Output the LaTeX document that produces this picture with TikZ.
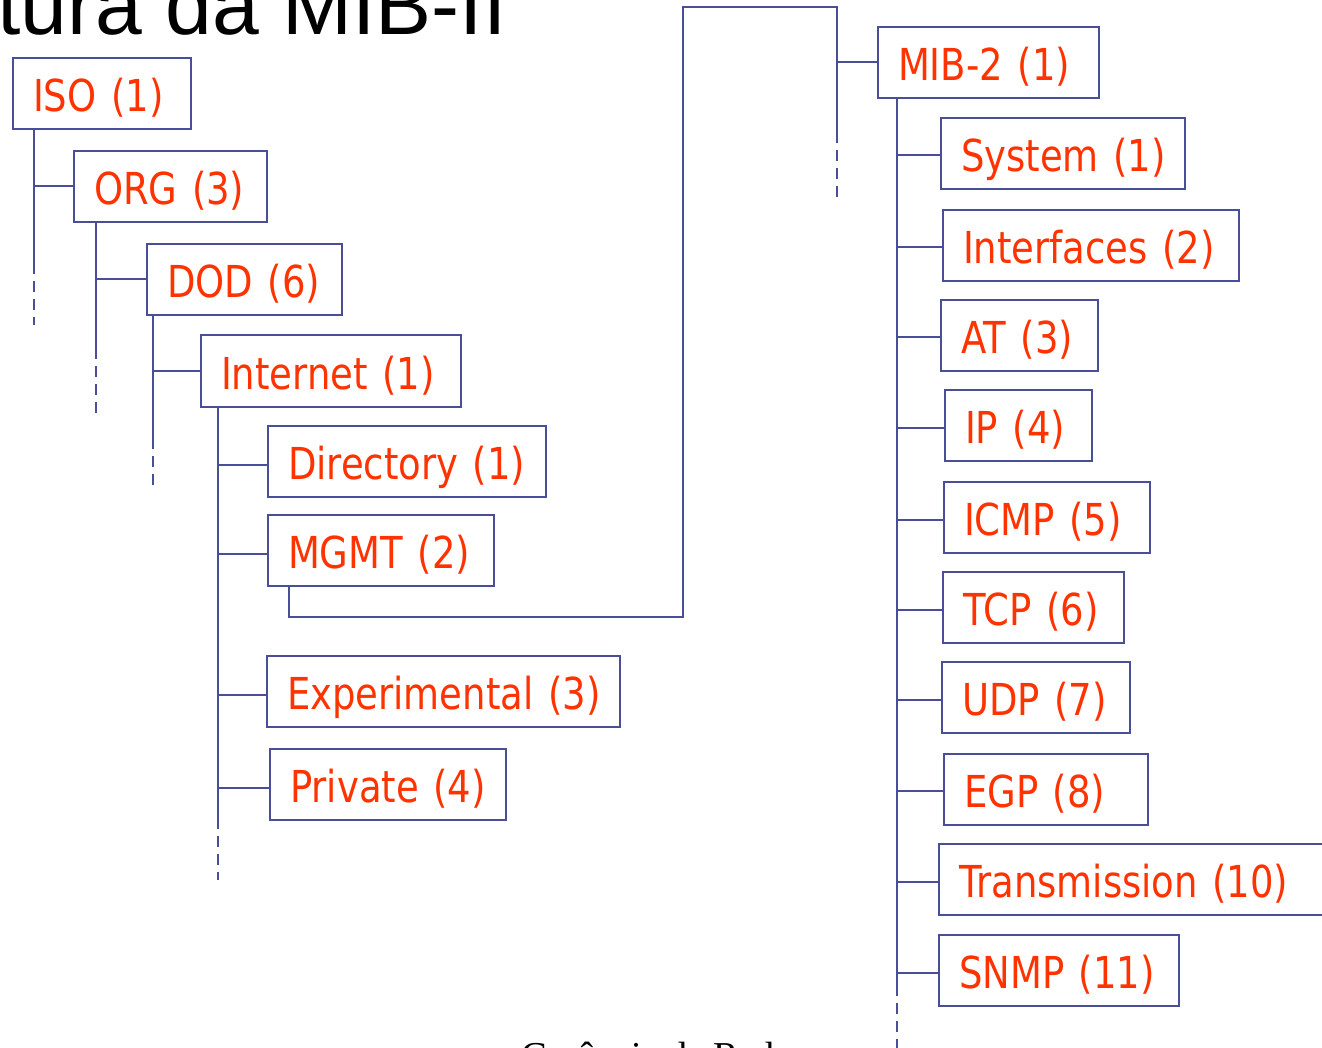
\documentclass[tikz,border=0pt]{standalone}
\usepackage{fontspec}
\newfontfamily\boxfont[FakeStretch=0.84]{DejaVu Sans}
\newfontfamily\titlefont{Liberation Sans}
\newfontfamily\footfont{Liberation Serif}
\definecolor{linecol}{RGB}{74,78,152}
\definecolor{txtcol}{RGB}{255,51,0}
\usepackage{tikz}

\begin{document}
\begin{tikzpicture}[line cap=butt,line join=miter,x=1pt,y=-1pt,
    obj/.style={draw=linecol, line width=2pt, text=txtcol, anchor=west, outer sep=0pt,
        font=\boxfont\fontsize{44}{52}\selectfont, inner xsep=20pt, inner ysep=0pt,
        minimum height=71pt, text height=36pt, text depth=0pt, align=left},
    link/.style={draw=linecol, line width=2pt},
    more/.style={draw=linecol, line width=2pt, dash pattern=on 11pt off 7pt}]
    \useasboundingbox (0,0) rectangle (1322,1048);
    \clip (0,0) rectangle (1322,1048);

    \node[font=\titlefont\fontsize{84}{90}\selectfont, anchor=base east] (title) at (510,35) {Estrutura da MIB-II};
    \node[font=\footfont\fontsize{38}{44}\selectfont, anchor=base west] (foot) at (518,1068) {Gerência de Redes};

    % left side of the tree
    \node[obj, text width=138pt] (iso) at (13,94) {ISO~(1)};
    \node[obj, text width=153pt] (org) at (74,186.5) {ORG~(3)};
    \node[obj, text width=155pt] (dod) at (147,279.5) {DOD~(6)};
    \node[obj, text width=220pt] (internet) at (201,371) {Internet~(1)};
    \node[obj, text width=238pt] (directory) at (268,461.5) {Directory~(1)};
    \node[obj, text width=186pt] (mgmt) at (268,550.5) {MGMT~(2)};
    \node[obj, text width=313pt] (experimental) at (267,691.5) {Experimental~(3)};
    \node[obj, text width=196pt] (private) at (270,784.5) {Private~(4)};

    \coordinate (isoT) at (34,263);
    \coordinate (orgT) at (96,348);
    \coordinate (dodT) at (153,438);
    \coordinate (internetT) at (218,818);

    \draw [link] (iso.south -| isoT) -- (isoT);
    \draw [more] (isoT) -- ++(0,62);
    \draw [link] (org.west -| isoT) -- (org.west);

    \draw [link] (org.south -| orgT) -- (orgT);
    \draw [more] (orgT) -- ++(0,65);
    \draw [link] (dod.west -| orgT) -- (dod.west);

    \draw [link] (dod.south -| dodT) -- (dodT);
    \draw [more] (dodT) -- ++(0,52);
    \draw [link] (internet.west -| dodT) -- (internet.west);

    \draw [link] (internet.south -| internetT) -- (internetT);
    \draw [more] (internetT) -- ++(0,62);
    \foreach \n in {directory, mgmt, experimental, private}
        \draw [link] ([yshift=-3pt]\n.west -| internetT) -- ([yshift=-3pt]\n.west);

    % jump from MGMT up to MIB-2
    \coordinate (jogA) at (683,617);
    \coordinate (jogB) at (683,7);
    \coordinate (mibT) at (837,132);
    \draw [link] ([xshift=21pt]mgmt.south west) |- (jogA) -- (jogB) -| (mibT);
    \draw [more] (mibT) -- ++(0,66);

    % right side of the tree
    \node[obj, text width=181pt] (mib) at (878,62.5) {MIB-2~(1)};
    \node[obj, text width=204pt] (system) at (941,153.5) {System~(1)};
    \node[obj, text width=256pt] (interfaces) at (943,245.5) {Interfaces~(2)};
    \node[obj, text width=117pt] (at) at (941,335.5) {AT~(3)};
    \node[obj, text width=107pt] (ip) at (945,425.5) {IP~(4)};
    \node[obj, text width=166pt] (icmp) at (944,517.5) {ICMP~(5)};
    \node[obj, text width=141pt] (tcp) at (943,607.5) {TCP~(6)};
    \node[obj, text width=148pt] (udp) at (942,697.5) {UDP~(7)};
    \node[obj, text width=164pt] (egp) at (944,789) {EGP~(8)};
    \node[obj, text width=352pt] (transmission) at (939,879.5) {Transmission~(10)};
    \node[obj, text width=200pt] (snmp) at (939,970.5) {SNMP~(11)};

    \draw [link] (mib.west -| mibT) -- (mib.west);

    \coordinate (mib2T) at (897,985);
    \draw [link] (mib.south -| mib2T) -- (mib2T);
    \draw [more] (mib2T) -- ++(0,70);
    \foreach \n in {system, interfaces, at, ip, icmp, tcp, udp, egp, transmission, snmp}
        \draw [link] ([yshift=-2pt]\n.west -| mib2T) -- ([yshift=-2pt]\n.west);
\end{tikzpicture}
\end{document}
